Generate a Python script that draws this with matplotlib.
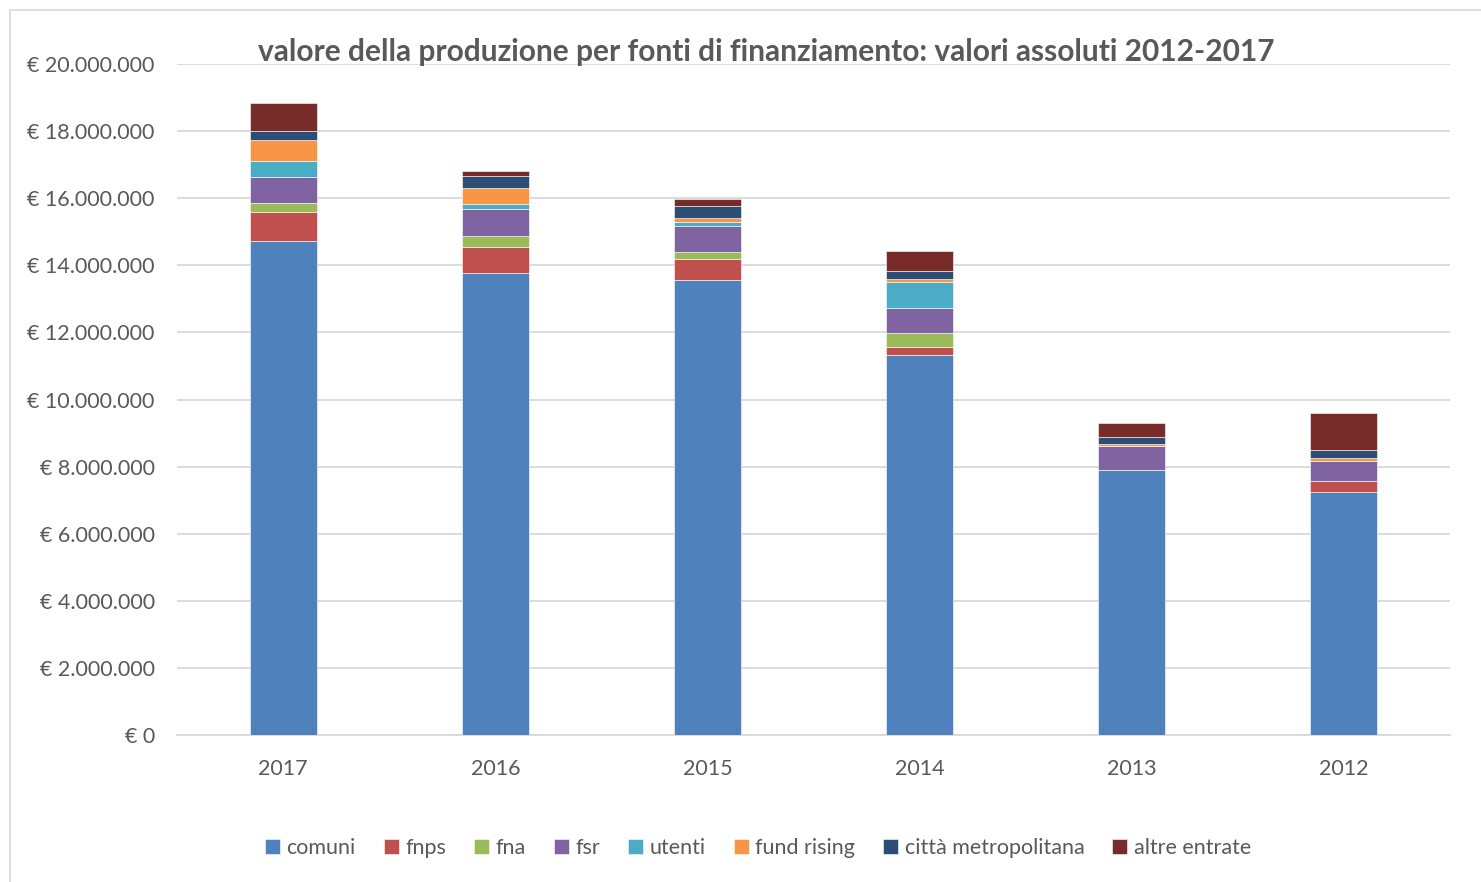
import matplotlib
matplotlib.use("Agg")
import matplotlib.pyplot as plt
from matplotlib.patches import Rectangle
import numpy as np

years = ["2017", "2016", "2015", "2014", "2013", "2012"]
series_names = ["comuni", "fnps", "fna", "fsr", "utenti", "fund rising",
                "città metropolitana", "altre entrate"]
comuni = [14720000, 13780000, 13550000, 11330000, 7890000, 7230000]
fnps = [860000, 770000, 650000, 230000, 0, 330000]
fna = [290000, 310000, 190000, 410000, 0, 0]
fsr = [750000, 830000, 770000, 750000, 710000, 620000]
utenti = [500000, 130000, 120000, 770000, 0, 0]
fund_rising = [610000, 480000, 140000, 110000, 70000, 80000]
citta_metropolitana = [280000, 360000, 340000, 220000, 210000, 230000]
altre_entrate = [820000, 150000, 210000, 610000, 410000, 1120000]

colors = ["#4F81BD", "#C0504D", "#9BBB59", "#8064A2", "#4BACC6", "#F79646",
          "#2C4D75", "#772C2A"]
yticks = list(range(0, 20000001, 2000000))

plt.rcParams['font.family'] = ['Lato', 'DejaVu Sans']
text_color = "#595959"

fig = plt.figure(figsize=(14.81, 8.82), dpi=100)
fig.patches.append(Rectangle((10/1481, -0.1), 1.2, (882-10)/882 + 0.1,
                             transform=fig.transFigure, fill=False,
                             edgecolor="#D9D9D9", linewidth=1.2))
ax = fig.add_axes([177/1481, (882-735)/882, (1450-177)/1481, (735-64)/882])

data = [comuni, fnps, fna, fsr, utenti, fund_rising, citta_metropolitana, altre_entrate]
x = np.arange(len(years))
bottom = np.zeros(len(years))
for name, vals, c in zip(series_names, data, colors):
    v = np.array(vals, dtype=float)
    ax.bar(x, v, width=0.316, bottom=bottom, color=c, label=name,
           edgecolor="white", linewidth=0.4, zorder=3)
    bottom += v

ax.set_xlim(-0.5, len(years) - 0.5)
ax.set_ylim(0, 20000000)
ax.set_yticks(yticks)
ax.set_yticklabels(["€ " + f"{t:,}".replace(",", ".") if t else "€ 0" for t in yticks])
ax.set_xticks(x)
ax.set_xticklabels(years)
ax.grid(axis="y", color="#D9D9D9", linewidth=1.3, zorder=0)
for s in ["top", "right", "left"]:
    ax.spines[s].set_visible(False)
ax.spines["bottom"].set_color("#D9D9D9")
ax.spines["bottom"].set_linewidth(1.3)
ax.tick_params(axis="both", length=0, colors=text_color, labelsize=15.5)
ax.tick_params(axis="y", pad=16)
ax.tick_params(axis="x", pad=17)

fig.text(766/1481, (882-52)/882, "valore della produzione per fonti di finanziamento: valori assoluti 2012-2017",
         ha="center", va="center", fontsize=21.5, fontweight="bold", color=text_color)

leg = ax.legend(loc="center", bbox_to_anchor=(758/1481, (882-848)/882),
                bbox_transform=fig.transFigure, ncol=8, frameon=False,
                fontsize=15.5, handlelength=0.7, handleheight=0.7,
                handletextpad=0.3, columnspacing=1.3)
for t in leg.get_texts():
    t.set_color(text_color)

fig.savefig("out.png", dpi=100)
